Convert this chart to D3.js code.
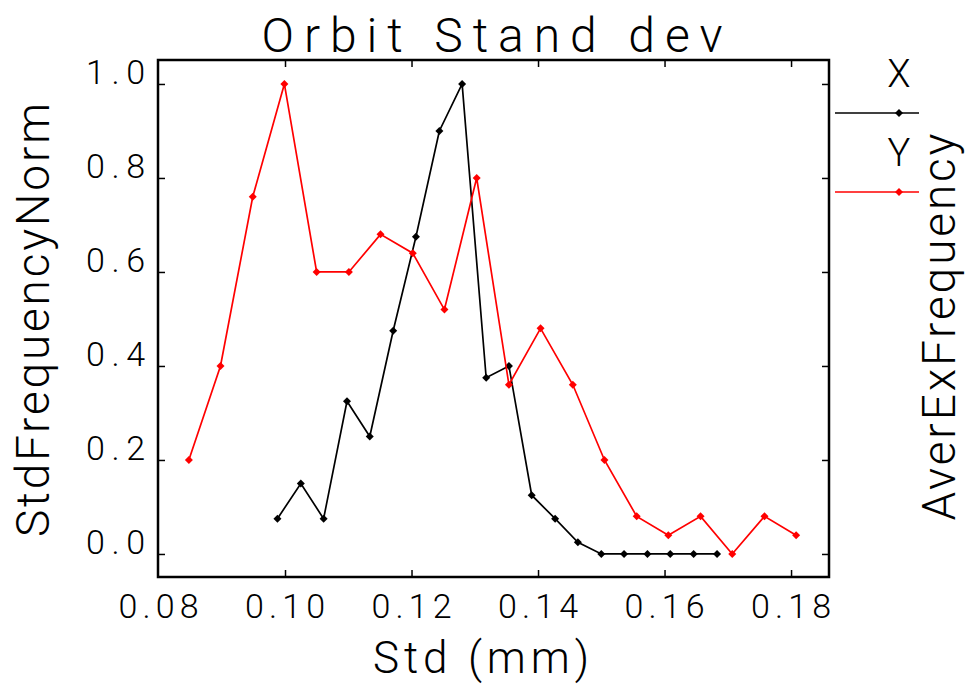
<!DOCTYPE html>
<html>
<head>
<meta charset="utf-8">
<script src="https://cdn.jsdelivr.net/npm/d3@7"></script>
<style>
  html, body { margin: 0; padding: 0; background: #fff; }
  svg { display: block; }
  text { font-family: "Roboto", "DejaVu Sans", sans-serif; font-weight: 300; fill: #000; }
</style>
</head>
<body>
<svg id="chart" width="967" height="684"></svg>
<script>
// ---- data ----
const title = "Orbit Stand dev";
const xLabel = "Std (mm)";
const yLabel = "StdFrequencyNorm";
const y2Label = "AverExFrequency";
const seriesNames = ["X", "Y"];
const seriesColors = ["#000000", "#ff0000"];

const xTicks = [0.08, 0.10, 0.12, 0.14, 0.16, 0.18];
const xTickLabels = ["0.08", "0.10", "0.12", "0.14", "0.16", "0.18"];
const yTicks = [0.0, 0.2, 0.4, 0.6, 0.8, 1.0];
const yTickLabels = ["0.0", "0.2", "0.4", "0.6", "0.8", "1.0"];

const stdX = [0.0988, 0.1025, 0.1061, 0.1098, 0.1134, 0.1171, 0.1207, 0.1244, 0.1280, 0.1318,
              0.1354, 0.1390, 0.1427, 0.1463, 0.1500, 0.1536, 0.1573, 0.1609, 0.1646, 0.1683];
const freqX = [0.075, 0.15, 0.075, 0.325, 0.25, 0.475, 0.675, 0.90, 1.00, 0.375,
               0.40, 0.125, 0.075, 0.025, 0.0, 0.0, 0.0, 0.0, 0.0, 0.0];

const stdY = [0.0848, 0.0898, 0.0949, 0.0999, 0.1050, 0.1101, 0.1151, 0.1202, 0.1252, 0.1303,
              0.1354, 0.1404, 0.1455, 0.1505, 0.1556, 0.1606, 0.1657, 0.1707, 0.1758, 0.1808];
const freqY = [0.20, 0.40, 0.76, 1.00, 0.60, 0.60, 0.68, 0.64, 0.52, 0.80,
               0.36, 0.48, 0.36, 0.20, 0.08, 0.04, 0.08, 0.00, 0.08, 0.04];

// ---- layout ----
const L = 158, R = 829, T = 60, B = 577;
const svg = d3.select("#chart");

const x = d3.scaleLinear().domain([0.08, 0.186]).range([158.5, R]);
const y = d3.scaleLinear().domain([-0.049, 1.051]).range([B, T]);

// frame
svg.append("rect").attr("x", L).attr("y", T).attr("width", R - L).attr("height", B - T)
  .attr("fill", "none").attr("stroke", "#000").attr("stroke-width", 2.5);

const tickLen = 7;
const axStyle = g => {
  g.select(".domain").remove();
  g.selectAll(".tick line").attr("stroke", "#000").attr("stroke-width", 1.5);
  g.selectAll(".tick text").remove();
};
// bottom & top ticks (inward)
svg.append("g").attr("transform", `translate(0,${B})`)
  .call(d3.axisTop(x).tickValues(xTicks.slice(1)).tickSize(tickLen)).call(axStyle);
svg.append("g").attr("transform", `translate(0,${T})`)
  .call(d3.axisBottom(x).tickValues(xTicks.slice(1)).tickSize(tickLen)).call(axStyle);
// left & right ticks (inward)
svg.append("g").attr("transform", `translate(${L},0)`)
  .call(d3.axisRight(y).tickValues(yTicks).tickSize(tickLen)).call(axStyle);
svg.append("g").attr("transform", `translate(${R},0)`)
  .call(d3.axisLeft(y).tickValues(yTicks).tickSize(tickLen)).call(axStyle);

// tick labels
svg.append("g").selectAll("text").data(xTicks).join("text")
  .attr("x", d => x(d)).attr("y", 618)
  .attr("text-anchor", "middle").attr("font-size", 34)
  .attr("textLength", 80).attr("lengthAdjust", "spacing")
  .text((d, i) => xTickLabels[i]);
svg.append("g").selectAll("text").data(yTicks).join("text")
  .attr("x", 145).attr("y", d => y(d))
  .attr("text-anchor", "end").attr("font-size", 34)
  .attr("textLength", 59).attr("lengthAdjust", "spacing")
  .text((d, i) => yTickLabels[i]);

// titles
svg.append("text").attr("x", 492).attr("y", 52).attr("text-anchor", "middle")
  .attr("font-size", 48).attr("textLength", 461).attr("lengthAdjust", "spacing").text(title);
svg.append("text").attr("x", 481).attr("y", 673).attr("text-anchor", "middle")
  .attr("font-size", 44).attr("textLength", 216).attr("lengthAdjust", "spacing").text(xLabel);
svg.append("text").attr("transform", "translate(49,320) rotate(-90)").attr("text-anchor", "middle")
  .attr("font-size", 46).attr("textLength", 434).attr("lengthAdjust", "spacing").text(yLabel);
svg.append("text").attr("transform", "translate(955,327) rotate(-90)").attr("text-anchor", "middle")
  .attr("font-size", 46).attr("textLength", 387).attr("lengthAdjust", "spacing").text(y2Label);

// series
const diamond = "M0,-4L4,0L0,4L-4,0Z";
const series = [
  { xs: stdX, ys: freqX },
  { xs: stdY, ys: freqY }
];
const line = d3.line().x(d => x(d[0])).y(d => y(d[1]));
series.forEach((s, k) => {
  const pts = s.xs.map((v, i) => [v, s.ys[i]]);
  const g = svg.append("g");
  g.append("path").attr("d", line(pts)).attr("fill", "none")
    .attr("stroke", seriesColors[k]).attr("stroke-width", 1.7).attr("stroke-linejoin", "miter");
  g.selectAll("path.m").data(pts).join("path").attr("class", "m")
    .attr("transform", d => `translate(${x(d[0])},${y(d[1])})`)
    .attr("d", diamond).attr("fill", seriesColors[k]);
});

// legend
const legY = [113, 192];
const legTextY = [87, 166];
seriesNames.forEach((n, k) => {
  svg.append("text").attr("x", 899).attr("y", legTextY[k]).attr("text-anchor", "middle")
    .attr("font-size", 38).text(n);
  svg.append("line").attr("x1", 835).attr("x2", 919).attr("y1", legY[k]).attr("y2", legY[k])
    .attr("stroke", seriesColors[k]).attr("stroke-width", 1.7);
  svg.append("path").attr("transform", `translate(899,${legY[k]})`).attr("d", diamond)
    .attr("fill", seriesColors[k]);
});
</script>
</body>
</html>
